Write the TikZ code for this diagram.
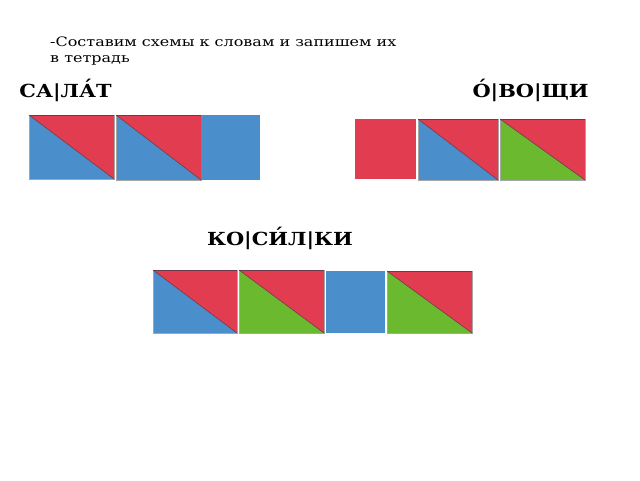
\documentclass[tikz,border=0pt]{standalone}
\usepackage{fontspec}
\setmainfont{DejaVu Serif}
\newfontfamily\introfont[FakeStretch=1.23]{DejaVu Serif}
\newfontfamily\headfont[FakeStretch=1.16]{DejaVu Serif Bold}
\definecolor{cred}{HTML}{E13C50}
\definecolor{cblue}{HTML}{4A8FCC}
\definecolor{cgreen}{HTML}{6BB92E}
\definecolor{cedge}{HTML}{6E3A48}
\tikzset{
  headtxt/.style={font=\headfont\fontsize{18}{21}\selectfont, inner sep=0pt, anchor=base},
  plaintxt/.style={font=\introfont\fontsize{13}{16}\selectfont, inner sep=0pt, anchor=base west},
  edgeline/.style={draw=cedge, line width=0.6pt},
  boxline/.style={draw=gray!70, line width=0.4pt}
}
% split box: #1 x0, #2 y0, #3 x1, #4 y1, #5 lower-left colour
\newcommand{\splitbox}[5]{%
  \fill[#5] (#1,#2) -- (#3,#4) -- (#1,#4) -- cycle;
  \fill[cred] (#1,#2) -- (#3,#2) -- (#3,#4) -- cycle;
  \draw[boxline] (#1,#2) rectangle (#3,#4);
  \draw[edgeline] (#1,#2) -- (#3,#4);
  \draw[edgeline] (#1,#2) -- (#3,#2);
}
\newcommand{\plainbox}[5]{%
  \fill[#5] (#1,#2) rectangle (#3,#4);
}
\begin{document}
\begin{tikzpicture}[x=1pt,y=-1pt]
\useasboundingbox[fill=white] (0,0) rectangle (640,480);
\node[plaintxt] (intro1) at (50,46) {-Составим схемы к словам и запишем их};
\node[plaintxt] (intro2) at (50,62) {в тетрадь};
\node[headtxt] (w1) at (65.5,97) {СА|ЛА́Т};
\node[headtxt] (w2) at (530.5,97) {О́|ВО|ЩИ};
\node[headtxt] (w3) at (280,245) {КО|СИ́Л|КИ};
% row 1
\splitbox{29}{115}{114}{179}{cblue}
\splitbox{116}{115}{201}{180}{cblue}
\plainbox{201}{115}{260}{180}{cblue}
% row 2
\plainbox{355}{119}{416}{179}{cred}
\splitbox{418}{119}{498}{180}{cblue}
\splitbox{500}{119}{585}{180}{cgreen}
% row 3
\splitbox{153}{270}{237}{333}{cblue}
\splitbox{239}{270}{324}{333}{cgreen}
\plainbox{326}{271}{385}{333}{cblue}
\splitbox{387}{271}{472}{333}{cgreen}
\end{tikzpicture}
\end{document}
